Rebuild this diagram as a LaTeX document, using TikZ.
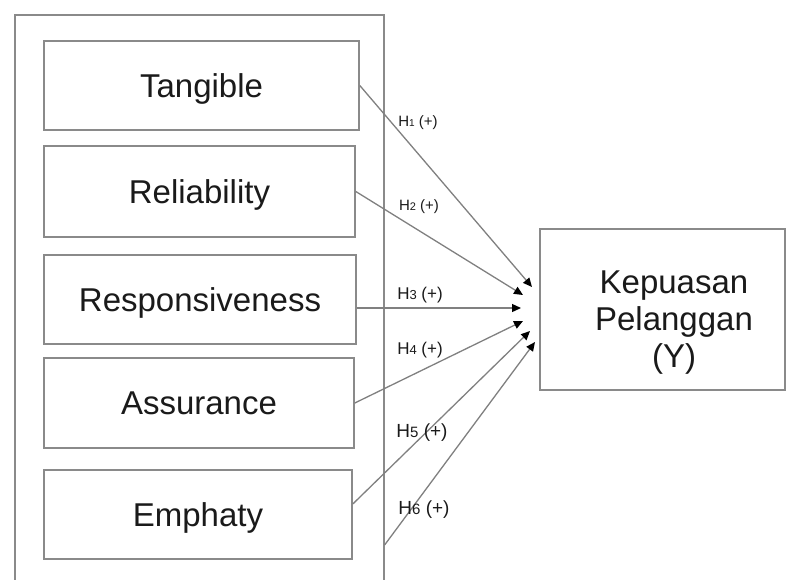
\documentclass[tikz,border=0pt]{standalone}
\usepackage{fontspec}
\setmainfont{Liberation Sans}
\usetikzlibrary{arrows.meta,calc}
\definecolor{boxgray}{HTML}{8A8A8A}
\definecolor{linegray}{HTML}{808080}
\definecolor{txt}{HTML}{1A1A1A}
\begin{document}
\begin{tikzpicture}[x=1pt,y=-1pt,
  boxst/.style={draw=boxgray, line width=1.6pt, rectangle, inner sep=0pt, text=txt,
    font=\fontsize{33}{38}\selectfont, text height=23.5pt, text depth=0pt},
  conn/.style={draw=linegray, line width=1.3pt, -{Triangle[length=9pt,width=8pt,color=black]}},
  labA/.style={text=txt, inner sep=0pt, font=\fontsize{15}{15}\selectfont},
  labB/.style={text=txt, inner sep=0pt, font=\fontsize{17}{17}\selectfont},
  labC/.style={text=txt, inner sep=0pt, font=\fontsize{19}{19}\selectfont},
]
\useasboundingbox (0,0) rectangle (787,579);
\clip (0,0) rectangle (787,579);
\fill[white] (0,0) rectangle (787,579);

% outer frame
\node[draw=boxgray, line width=1.6pt, rectangle, inner sep=0pt, minimum width=369pt,
  minimum height=600pt, anchor=north west] (outer) at (14,14) {};

% independent variable boxes
\node[boxst, minimum width=315pt, minimum height=89pt] (tang) at (201.5,85.5) {Tangible};
\node[boxst, minimum width=311pt, minimum height=91pt] (rel)  at (199.5,191.5) {Reliability};
\node[boxst, minimum width=312pt, minimum height=89pt] (resp) at (200,299.5) {Responsiveness};
\node[boxst, minimum width=310pt, minimum height=90pt] (assu) at (199,403) {Assurance};
\node[boxst, minimum width=308pt, minimum height=89pt] (emph) at (198,514.5) {Emphaty};

% dependent variable box
\node[draw=boxgray, line width=1.6pt, rectangle, inner sep=0pt, minimum width=245pt,
  minimum height=161pt] (kpbox) at (662.5,309.5) {};
\node[text=txt, inner sep=0pt, align=center, font=\fontsize{33}{37}\selectfont]
  (kp) at (674,323) {Kepuasan\\Pelanggan\\(Y)};

% connector end points
\coordinate (s1) at (tang.east);
\coordinate (s2) at (rel.east);
\coordinate (s3) at ($(resp.east)+(0,8.5)$);
\coordinate (s4) at (assu.east);
\coordinate (s5) at ($(emph.east)+(0,-10.5)$);
\coordinate (s6) at ($(outer.north east)+(0,531)$);
\coordinate (t1) at (532,287);
\coordinate (t2) at (523,295);
\coordinate (t3) at (521,308);
\coordinate (t4) at (523,321);
\coordinate (t5) at (530,331);
\coordinate (t6) at (535,342);

\draw[conn] (s1) -- (t1);
\draw[conn] (s2) -- (t2);
\draw[conn] (s3) -- (t3);
\draw[conn] (s4) -- (t4);
\draw[conn] (s5) -- (t5);
\draw[conn] (s6) -- (t6);

% labels
\node[labA] (l1) at (418,123) {H{\fontsize{10}{10}\selectfont 1} (+)};
\node[labA] (l2) at (419,207) {H{\fontsize{11}{11}\selectfont 2} (+)};
\node[labB] (l3) at (420,295) {H{\fontsize{13}{13}\selectfont 3} (+)};
\node[labB] (l4) at (420,350) {H{\fontsize{13}{13}\selectfont 4} (+)};
\node[labC] (l5) at (422,433) {H{\fontsize{15}{15}\selectfont 5} (+)};
\node[labC] (l6) at (424,510) {H{\fontsize{15}{15}\selectfont 6} (+)};
\end{tikzpicture}
\end{document}
